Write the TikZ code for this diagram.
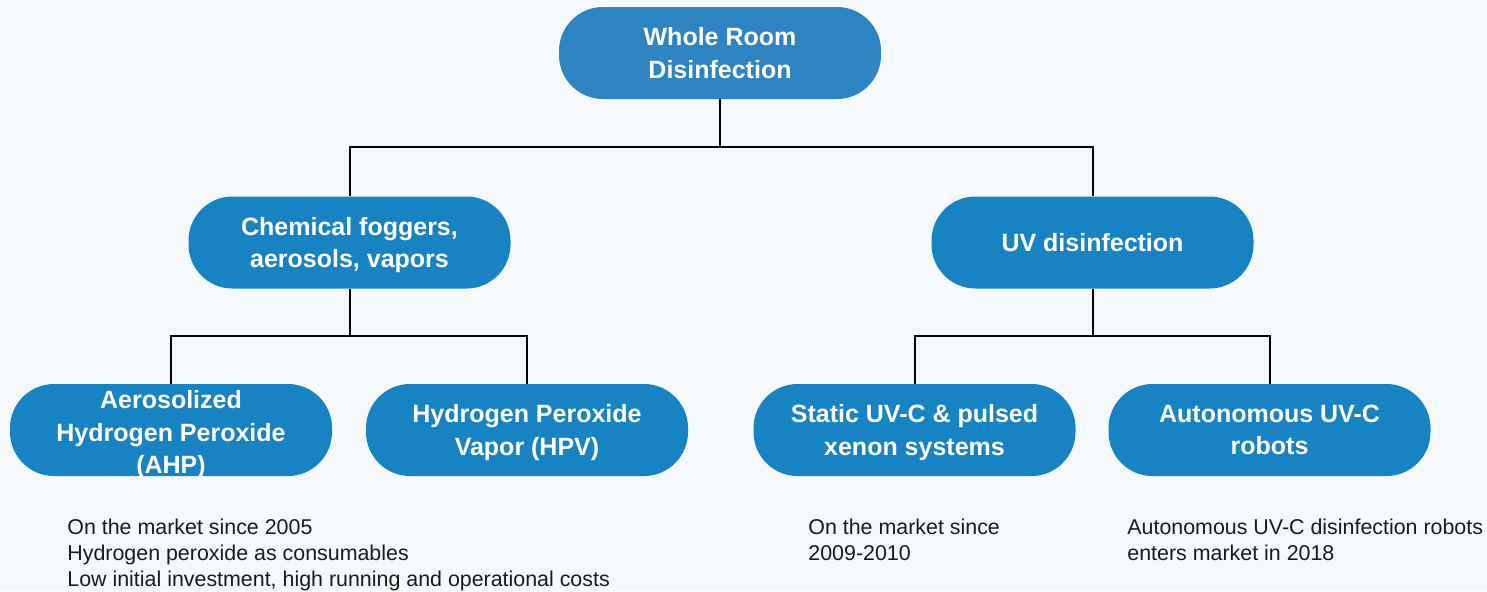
\documentclass[tikz,border=0pt]{standalone}
\usepackage{fontspec}
\setmainfont{Liberation Sans}
\usetikzlibrary{positioning}
\definecolor{rootblue}{HTML}{2E83C1}
\definecolor{boxblue}{HTML}{1783C3}
\definecolor{bgwhite}{HTML}{F6F9FC}
\definecolor{notegray}{HTML}{1A1A1A}

\begin{document}
\begin{tikzpicture}[x=0.5pt,y=-0.5pt,
  pill/.style={fill=boxblue,text=white,rounded corners=22pt,minimum width=161pt,
    minimum height=46pt,align=center,text depth=0pt,
    font=\fontsize{12.5}{16.2}\selectfont\bfseries},
  pilltext/.style={text=white,align=center,inner sep=0pt,text depth=0pt,
    font=\fontsize{12.5}{16.2}\selectfont\bfseries},
  note/.style={anchor=north west,align=left,inner sep=0pt,text=notegray,
    font=\fontsize{10.7}{13}\selectfont},
  link/.style={draw,line width=1pt}]
\fill[bgwhite] (0,0) rectangle (1487,591);
\useasboundingbox (0,0) rectangle (1487,591);

\node[pill,fill=rootblue] (room) at (720,53) {Whole Room\\Disinfection};
\node[pill] (chem) at (349.5,242.5) {Chemical foggers,\\aerosols, vapors};
\node[pill] (uv) at (1092.5,242.5) {UV disinfection};
\node[pill] (ahp) at (171,430) {};
\node[pilltext] (ahptext) at (171,432) {Aerosolized\\Hydrogen Peroxide\\(AHP)};
\node[pill] (hpv) at (527,430) {Hydrogen Peroxide\\Vapor (HPV)};
\node[pill] (static) at (914.5,430) {Static UV-C \& pulsed\\xenon systems};
\node[pill] (robot) at (1269.5,430) {Autonomous UV-C\\robots};

\node[note] (ahpnote) at (67,519) {On the market since 2005\\Hydrogen peroxide as consumables\\Low initial investment, high running and operational costs};
\node[note] (staticnote) at (808,519) {On the market since\\2009-2010};
\node[note] (robotnote) at (1127,519) {Autonomous UV-C disinfection robots\\enters market in 2018};

\draw[link] (room.south) -- ++(0,-24pt) -| (chem);
\draw[link] (room.south) -- ++(0,-24pt) -| (uv);
\draw[link] (chem.south) -- ++(0,-23.5pt) -| (ahp);
\draw[link] (chem.south) -- ++(0,-23.5pt) -| (hpv);
\draw[link] (uv.south) -- ++(0,-23.5pt) -| (static);
\draw[link] (uv.south) -- ++(0,-23.5pt) -| (robot);
\end{tikzpicture}
\end{document}
